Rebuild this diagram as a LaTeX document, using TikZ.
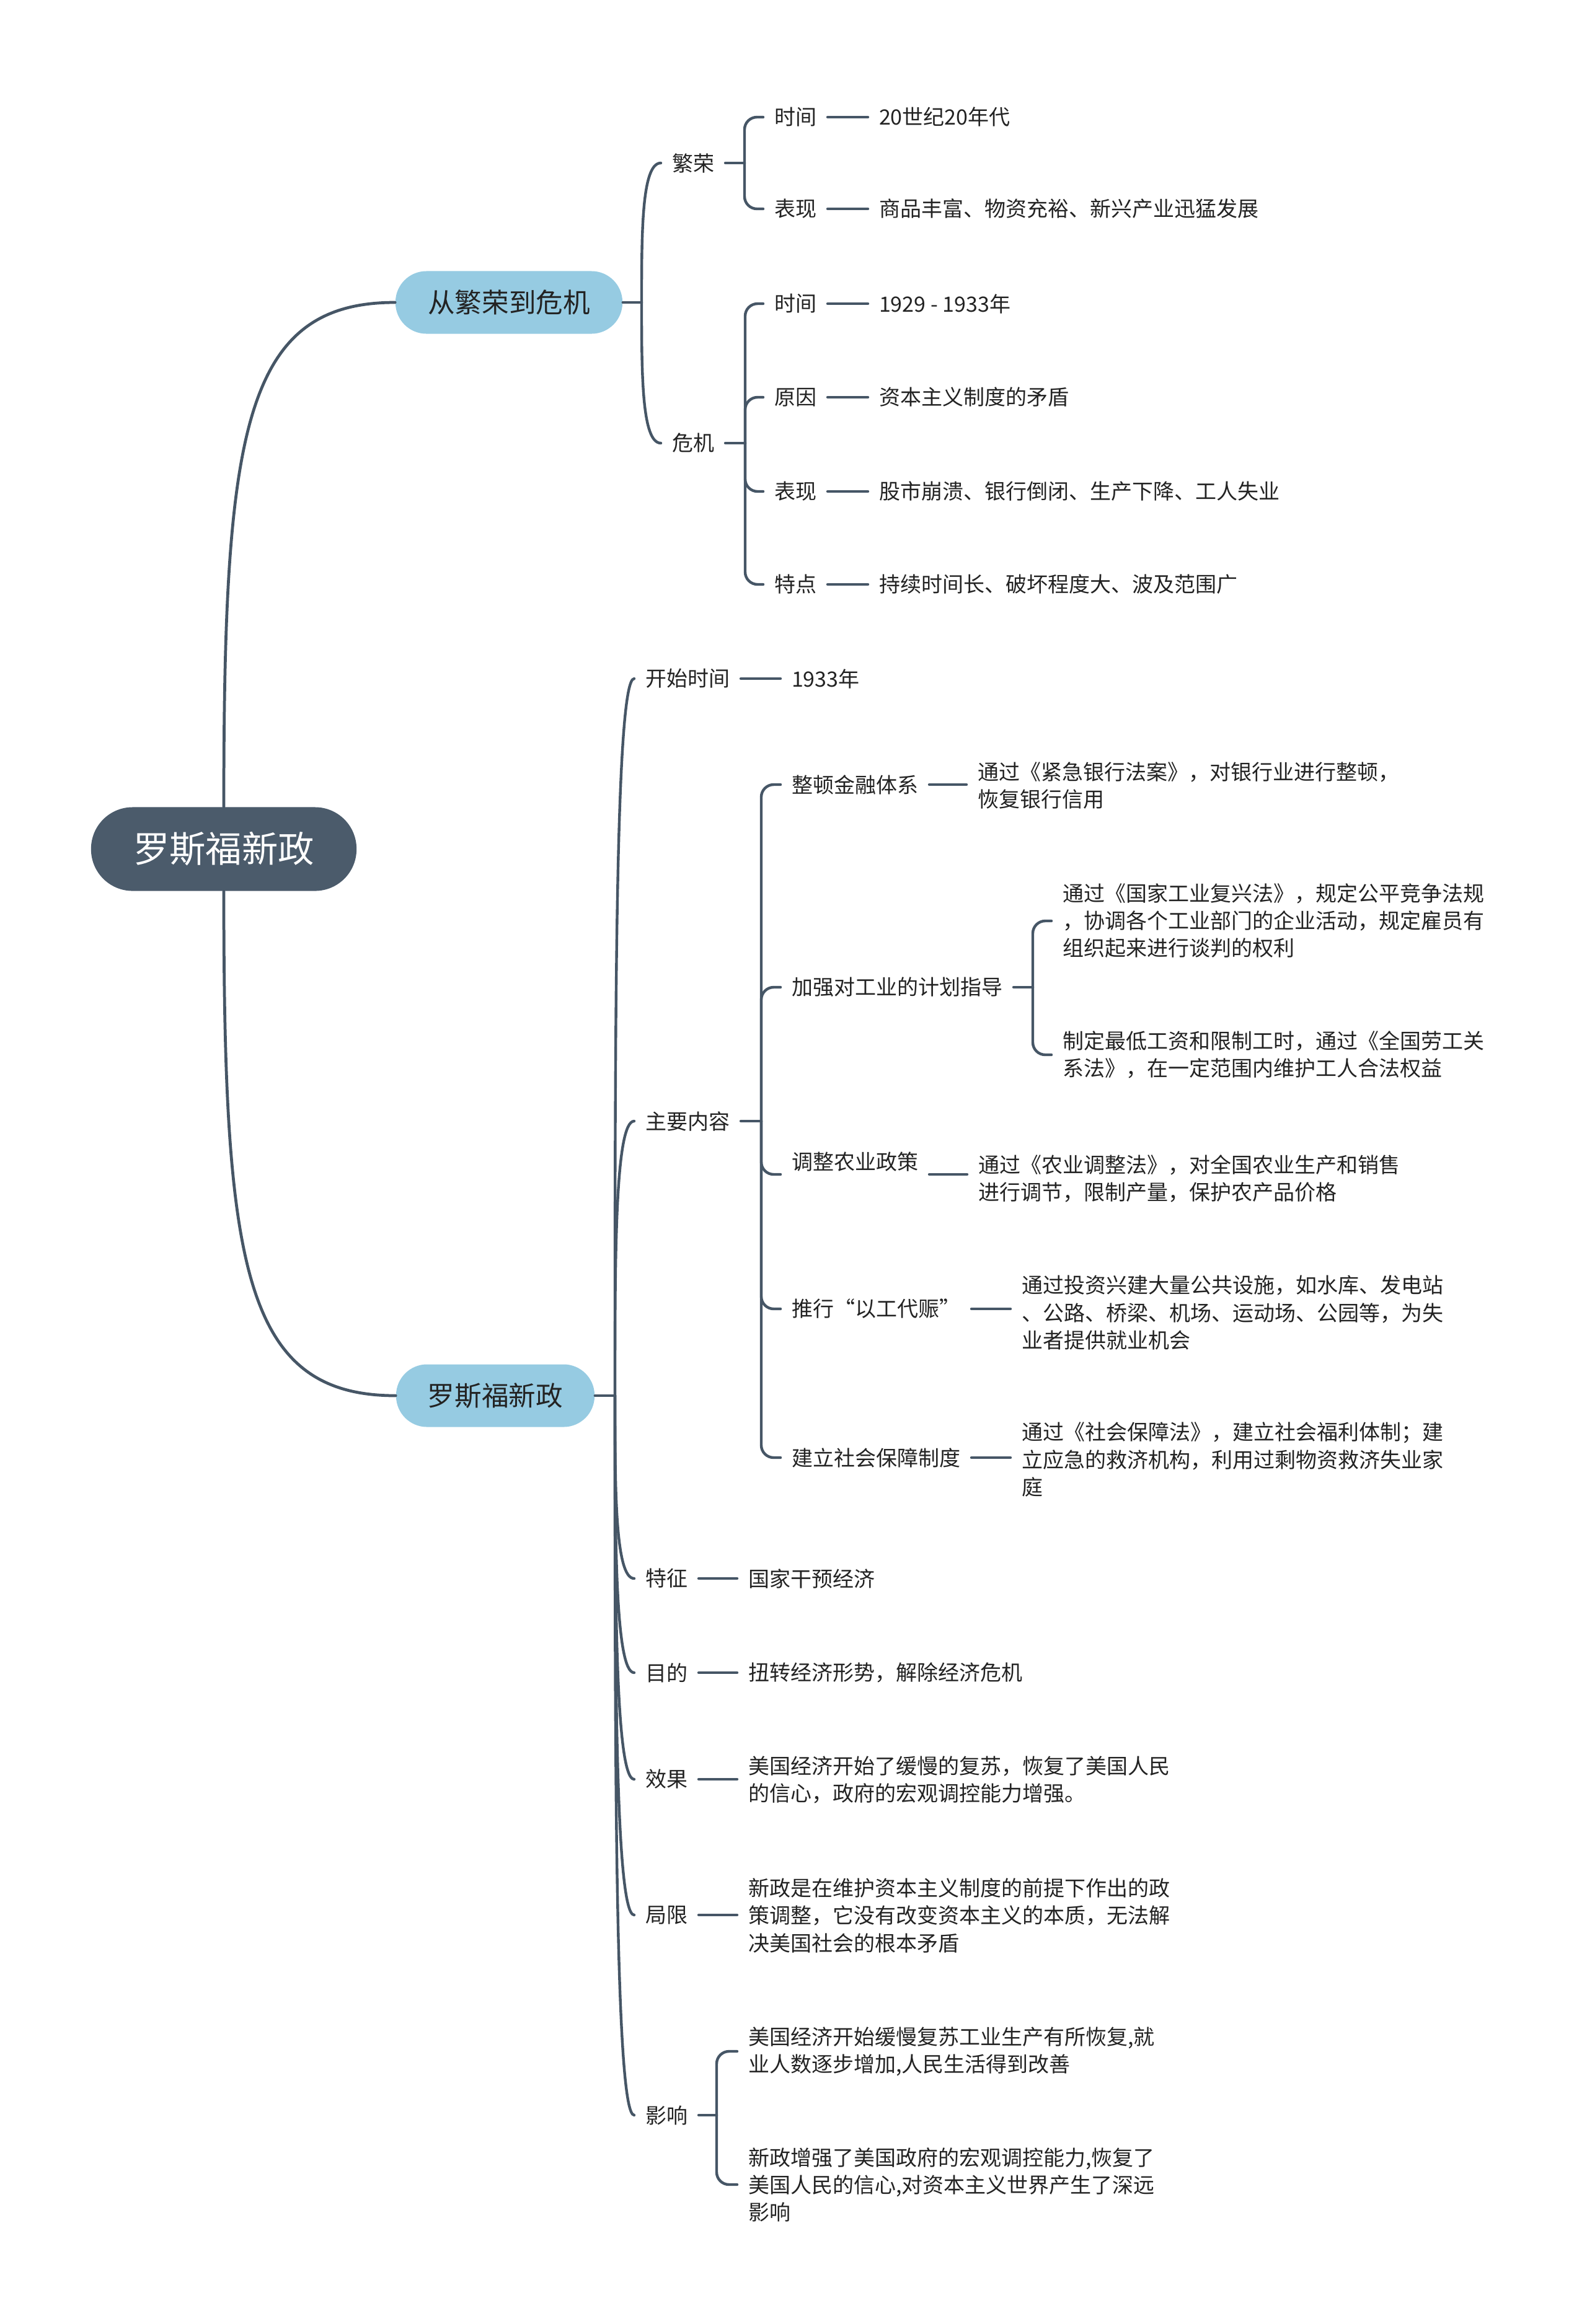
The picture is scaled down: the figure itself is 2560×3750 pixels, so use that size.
\documentclass[tikz,border=0pt]{standalone}
\usepackage{fontspec}
\setmainfont{Noto Sans CJK SC}
\usetikzlibrary{calc}
\definecolor{lc}{RGB}{70,86,102}
\definecolor{rootfill}{RGB}{75,91,107}
\definecolor{brfill}{RGB}{150,203,226}
\definecolor{tc}{RGB}{35,35,35}
\begin{document}
\begin{tikzpicture}[x=0.01cm, y=-0.01cm,
  conn/.style={draw=lc, line width=1.25pt, line cap=round},
  elbow/.style={conn, rounded corners=0.2cm},
  rootnode/.style={fill=rootfill, text=white, rounded corners=0.67cm, minimum width=4.28cm, minimum height=1.35cm, inner sep=0, font=\fontsize{16.6pt}{20pt}\selectfont},
  brnode/.style={fill=brfill, text=tc, rounded corners=0.5cm, minimum height=1.01cm, inner sep=0, font=\fontsize{12.4pt}{15pt}\selectfont},
  lab/.style={anchor=west, inner sep=0, outer xsep=0.18cm, outer ysep=0, text=tc, align=left, font=\fontsize{9.67pt}{12.52pt}\selectfont},
]
\useasboundingbox (0,0) rectangle (2560,3750);

% root and branches
\node[rootnode] (root) at (361,1370) {罗斯福新政};
\node[brnode, minimum width=3.66cm] (b1) at (821,488) {从繁荣到危机};
\node[brnode, minimum width=3.2cm] (b2) at (799,2252) {罗斯福新政};

\draw[conn, line width=1.35pt] (root.north) .. controls ($(root.north)!0.74!(root.north |- b1.west)$) and ($(root.north |- b1.west)!0.11!(b1.west)$) .. (b1.west);
\draw[conn, line width=1.35pt] (root.south) .. controls ($(root.south)!0.74!(root.south |- b2.west)$) and ($(root.south |- b2.west)!0.11!(b2.west)$) .. (b2.west);

% ---------- branch 1 ----------
\coordinate (b1t) at (1035,488);
\draw[conn] (b1.east) -- (b1t);
\node[lab] (fr) at (1066,263) {繁荣};
\node[lab] (wj) at (1066,715) {危机};
\foreach \c in {fr,wj}
  \draw[conn] (b1t) .. controls ($(b1t)!0.5!(b1t|-\c.west)$) and (b1t|-\c.west) .. (\c.west);

% 繁荣
\coordinate (frt) at (1201,263);
\draw[conn] (fr.east) -- (frt);
\node[lab] (fr1) at (1231,189) {时间};
\node[lab] (fr2) at (1231,337) {表现};
\node[lab] (fr1l) at (1400,189) {20世纪20年代};
\node[lab] (fr2l) at (1400,337) {商品丰富、物资充裕、新兴产业迅猛发展};
\foreach \c in {fr1,fr2} {
  \draw[elbow] (frt) |- (\c.west);
  \draw[conn] (\c.east) -- (\c.east -| \c l.west);
}

% 危机
\coordinate (wjt) at (1202,715);
\draw[conn] (wj.east) -- (wjt);
\node[lab] (wj1) at (1231,490) {时间};
\node[lab] (wj2) at (1231,641) {原因};
\node[lab] (wj3) at (1231,793) {表现};
\node[lab] (wj4) at (1231,943) {特点};
\node[lab] (wj1l) at (1400,490) {1929 - 1933年};
\node[lab] (wj2l) at (1400,641) {资本主义制度的矛盾};
\node[lab] (wj3l) at (1400,793) {股市崩溃、银行倒闭、生产下降、工人失业};
\node[lab] (wj4l) at (1400,943) {持续时间长、破坏程度大、波及范围广};
\foreach \c in {wj1,wj2,wj3,wj4} {
  \draw[elbow] (wjt) |- (\c.west);
  \draw[conn] (\c.east) -- (\c.east -| \c l.west);
}

% ---------- branch 2 ----------
\coordinate (b2t) at (992,2252);
\draw[conn] (b2.east) -- (b2t);
\node[lab] (ks) at (1023,1095) {开始时间};
\node[lab] (zy) at (1023,1809) {主要内容};
\node[lab] (tz) at (1023,2547) {特征};
\node[lab] (md) at (1023,2699) {目的};
\node[lab] (xg) at (1023,2871) {效果};
\node[lab] (jx) at (1023,3090) {局限};
\node[lab] (yx) at (1023,3413) {影响};
\foreach \c in {ks,zy,tz,md,xg,jx,yx}
  \draw[conn] (b2t) .. controls ($(b2t)!0.5!(b2t|-\c.west)$) and (b2t|-\c.west) .. (\c.west);

% leaves of simple children
\node[lab] (ksl) at (1259,1095) {1933年};
\node[lab] (tzl) at (1189,2547) {国家干预经济};
\node[lab] (mdl) at (1189,2699) {扭转经济形势，解除经济危机};
\node[lab] (xgl) at (1189,2872) {美国经济开始了缓慢的复苏，恢复了美国人民\\的信心，政府的宏观调控能力增强。};
\node[lab] (jxl) at (1189,3091) {新政是在维护资本主义制度的前提下作出的政\\策调整，它没有改变资本主义的本质，无法解\\决美国社会的根本矛盾};
\foreach \c in {ks,tz,md,xg,jx}
  \draw[conn] (\c.east) -- (\c.east -| \c l.west);

% 主要内容
\coordinate (zyt) at (1228,1809);
\draw[conn] (zy.east) -- (zyt);
\node[lab] (zy1) at (1259,1266) {整顿金融体系};
\node[lab] (zy2) at (1259,1593) {加强对工业的计划指导};
\node[lab] (zy3) at (1259,1875) {调整农业政策};
\node[lab] (zy4) at (1259,2112) {推行“以工代赈”};
\node[lab] (zy5) at (1259,2352) {建立社会保障制度};

\node[lab] (zy1l) at (1559,1268) {通过《紧急银行法案》，对银行业进行整顿，\\恢复银行信用};
\node[lab] (zy3l) at (1560,1902) {通过《农业调整法》，对全国农业生产和销售\\进行调节，限制产量，保护农产品价格};
\node[lab] (zy4l) at (1630,2118) {通过投资兴建大量公共设施，如水库、发电站\\、公路、桥梁、机场、运动场、公园等，为失\\业者提供就业机会};
\node[lab] (zy5l) at (1630,2355) {通过《社会保障法》，建立社会福利体制；建\\立应急的救济机构，利用过剩物资救济失业家\\庭};

\foreach \c in {zy1,zy2,zy4,zy5}
  \draw[elbow] (zyt) |- (\c.west);
\foreach \c in {zy1,zy4,zy5}
  \draw[conn] (\c.east) -- (\c.east -| \c l.west);

\coordinate (zy3c) at ($(zy3.east)+(0,20)$);
\draw[elbow] (zyt) |- (zy3.west |- zy3c);
\draw[conn] (zy3c) -- (zy3c -| zy3l.west);

% 加强对工业的计划指导
\coordinate (zy2t) at (1666,1593);
\draw[conn] (zy2.east) -- (zy2t);
\node[lab] (zy2a) at (1696,1486) {通过《国家工业复兴法》，规定公平竞争法规\\，协调各个工业部门的企业活动，规定雇员有\\组织起来进行谈判的权利};
\node[lab] (zy2b) at (1696,1702) {制定最低工资和限制工时，通过《全国劳工关\\系法》，在一定范围内维护工人合法权益};
\foreach \c in {zy2a,zy2b}
  \draw[elbow] (zy2t) |- (\c.west);

% 影响
\coordinate (yxt) at (1156,3413);
\draw[conn] (yx.east) -- (yxt);
\node[lab] (yxa) at (1189,3310) {美国经济开始缓慢复苏工业生产有所恢复,就\\业人数逐步增加,人民生活得到改善};
\node[lab] (yxb) at (1189,3525) {新政增强了美国政府的宏观调控能力,恢复了\\美国人民的信心,对资本主义世界产生了深远\\影响};
\foreach \c in {yxa,yxb}
  \draw[elbow] (yxt) |- (\c.west);
\end{tikzpicture}
\end{document}
